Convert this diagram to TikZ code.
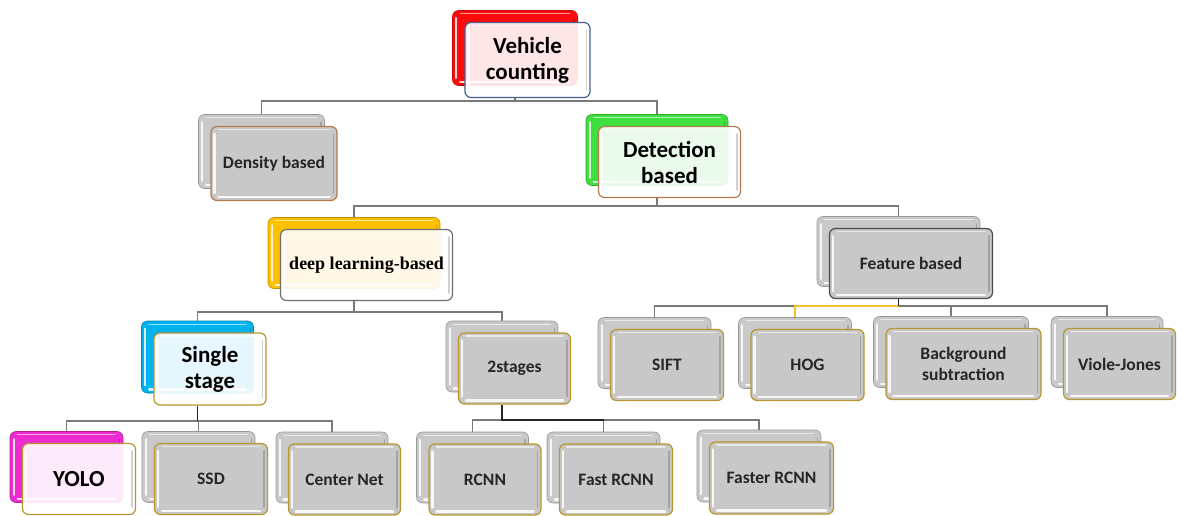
\documentclass[tikz,border=0pt]{standalone}
\usepackage{fontspec}
\setmainfont{Carlito}
\newfontfamily\timesbold{Liberation Serif}
\usetikzlibrary{calc,backgrounds}

\definecolor{redb}{HTML}{FF0A0A}
\definecolor{greenb}{HTML}{3DE03D}
\definecolor{yellowb}{HTML}{FFC000}
\definecolor{cyanb}{HTML}{00B2EE}
\definecolor{magentab}{HTML}{EE2BD0}
\definecolor{grayb}{HTML}{C9C9C9}
\definecolor{grayf}{HTML}{C8C8C8}
\definecolor{goldedge}{HTML}{B8962E}
\definecolor{blueedge}{HTML}{44618F}
\definecolor{brownedge}{HTML}{B47A4E}
\definecolor{darkedge}{HTML}{4A4A4A}
\definecolor{midedge}{HTML}{6F6F6F}
\definecolor{txtgray}{HTML}{262626}
\definecolor{linegray}{HTML}{7A7A7A}
\definecolor{lineyellow}{HTML}{F2C12E}

\tikzset{
  conn/.style={draw=linegray, line width=1.1pt},
  connbold/.style={draw=black!85, line width=1.8pt},
  backbox/.style={rounded corners=6pt, fill=#1, draw=#1!75!black, line width=0.6pt, inner sep=0pt},
  frontbox/.style={rounded corners=6pt, line width=1.2pt, inner sep=0pt, align=center, font=\bfseries},
  frontglass/.style={frontbox, draw=#1, fill=white, fill opacity=0.9, text opacity=1, text=black},
  frontgray/.style={frontbox, draw=#1, fill=grayf, text=txtgray},
  bigtext/.style={font=\bfseries\fontsize{23}{26}\selectfont},
  smalltext/.style={font=\bfseries\fontsize{17.5}{20.5}\selectfont},
}

% glossy highlights along the inner edges of a box
\newcommand\gloss[1]{%
  \draw[white, line width=2.4pt, opacity=.85, line cap=round]
    ([shift={(4,8)}]#1.north west) -- ([shift={(4,-8)}]#1.south west);
  \draw[white, line width=2.4pt, opacity=.85, line cap=round]
    ([shift={(8,-4)}]#1.south west) -- ([shift={(-8,-4)}]#1.south east);
  \draw[white, line width=1.2pt, opacity=.6, line cap=round]
    ([shift={(8,3.5)}]#1.north west) -- ([shift={(-8,3.5)}]#1.north east);
  \draw[black, line width=1.6pt, opacity=.18, line cap=round]
    ([shift={(-4,8)}]#1.north east) -- ([shift={(-4,-8)}]#1.south east);
}

% a back card and the front card laid over it
% #1 name, #2 #3 centre of back card, #4 width, #5 height, #6 back style, #7 front style, #8 text
\newcommand\cardpair[8]{%
  \node[#6, minimum width=#4pt, minimum height=#5pt] (#1b) at (#2,#3) {};
  \gloss{#1b}
  \node[#7, minimum width=#4pt, minimum height=#5pt] (#1) at ($(#2,#3)+(12.5,12)$) {#8};
  \gloss{#1}
}

\begin{document}
\begin{tikzpicture}[x=1pt, y=-1pt]
\useasboundingbox (0,0) rectangle (1177,516);

% ---- cards ----
\cardpair{vc}{515}{48}{125}{75}{backbox=redb}{frontglass=blueedge, bigtext}{Vehicle\\counting}
\cardpair{den}{261.5}{151.5}{126}{74}{backbox=grayb}{frontgray=brownedge, smalltext}{Density based}
\cardpair{det}{657}{150}{142}{71}{backbox=greenb}{frontglass=brownedge, bigtext}{Detection\\based}
\cardpair{dl}{354}{253}{172}{71}{backbox=yellowb}{frontglass=midedge, font=\timesbold\bfseries\fontsize{18}{21}\selectfont}{deep learning-based}
\cardpair{fb}{898.5}{251.5}{163}{70}{backbox=grayb}{frontgray=darkedge, smalltext}{Feature based}
\cardpair{ss}{197.5}{357}{112}{72}{backbox=cyanb}{frontglass=goldedge, bigtext}{Single\\stage}
\cardpair{ts}{502}{356.5}{112}{71}{backbox=grayb}{frontgray=goldedge, smalltext}{2stages}
\cardpair{yolo}{66.5}{467}{113}{71}{backbox=magentab}{frontglass=goldedge, bigtext}{YOLO}
\cardpair{ssd}{198.5}{467}{113}{71}{backbox=grayb}{frontgray=goldedge, smalltext}{SSD}
\cardpair{cn}{332}{467.5}{112}{71}{backbox=grayb}{frontgray=goldedge, smalltext}{Center Net}
\cardpair{rcnn}{472.5}{467.5}{112}{71}{backbox=grayb}{frontgray=goldedge, smalltext}{RCNN}
\cardpair{fast}{603.5}{467.5}{113}{71}{backbox=grayb}{frontgray=goldedge, smalltext}{Fast RCNN}
\cardpair{faster}{759}{466}{124}{72}{backbox=grayb}{frontgray=goldedge, smalltext}{Faster RCNN}
\cardpair{sift}{654.5}{353}{113}{71}{backbox=grayb}{frontgray=goldedge, smalltext}{SIFT}
\cardpair{hog}{795}{353}{113}{71}{backbox=grayb}{frontgray=goldedge, smalltext}{HOG}
\cardpair{bg}{951}{352}{155}{71}{backbox=grayb}{frontgray=goldedge, smalltext}{Background\\subtraction}
\cardpair{vj}{1107}{352}{112}{71}{backbox=grayb}{frontgray=goldedge, smalltext}{Viole-Jones}

% ---- tree connectors, behind the cards ----
\begin{scope}[on background layer]
  \fill[white] (0,0) rectangle (1177,516);
  \coordinate (busA) at (0,101);
  \coordinate (busB) at (0,206);
  \coordinate (busC) at (0,312);
  \coordinate (busD) at (0,306);
  \coordinate (busE) at (0,421);
  \coordinate (busF) at (0,420);

  % root
  \draw[conn] (vcb.center |- vc.south) -- (vcb.center |- busA);
  \draw[conn] (denb.north) -- (denb.north |- busA) -- (detb.north |- busA) -- (detb.north);

  % detection based
  \draw[conn] (detb.center |- det.south) -- (detb.center |- busB);
  \draw[conn] (dlb.north) -- (dlb.north |- busB) -- (fbb.north |- busB) -- (fbb.north);

  % deep learning-based
  \draw[conn] (dlb.center |- dl.south) -- (dlb.center |- busC);
  \draw[conn] (ssb.north) -- (ssb.north |- busC) -- (tsb.north |- busC) -- (tsb.north);

  % feature based
  \draw[conn] (siftb.north) -- (siftb.north |- busD) -- (vjb.north |- busD) -- (vjb.north);
  \draw[conn] (hogb.north |- busD) -- (hogb.north);
  \draw[conn] (bgb.north |- busD) -- (bgb.north);
  \draw[conn, draw=lineyellow] (hogb.north) -- (hogb.north |- busD) -- (fbb.center |- busD);
  \draw[connbold, line width=1.4pt] (fbb.center |- fb.south) -- (fbb.center |- busD);

  % single stage
  \draw[conn] (yolob.north) -- (yolob.north |- busE) -- (cnb.north |- busE) -- (cnb.north);
  \draw[conn] (ssdb.north |- busE) -- (ssdb.north);
  \draw[connbold] (ssb.center |- ss.south) -- (ssb.center |- busE);

  % two stages
  \draw[conn] (rcnnb.north) -- (rcnnb.north |- busF) -- (fasterb.north |- busF) -- (fasterb.north);
  \draw[conn] (fastb.north |- busF) -- (fastb.north);
  \draw[connbold] (tsb.center |- ts.south) -- (tsb.center |- busF) -- (fastb.north |- busF);
\end{scope}
\end{tikzpicture}
\end{document}
